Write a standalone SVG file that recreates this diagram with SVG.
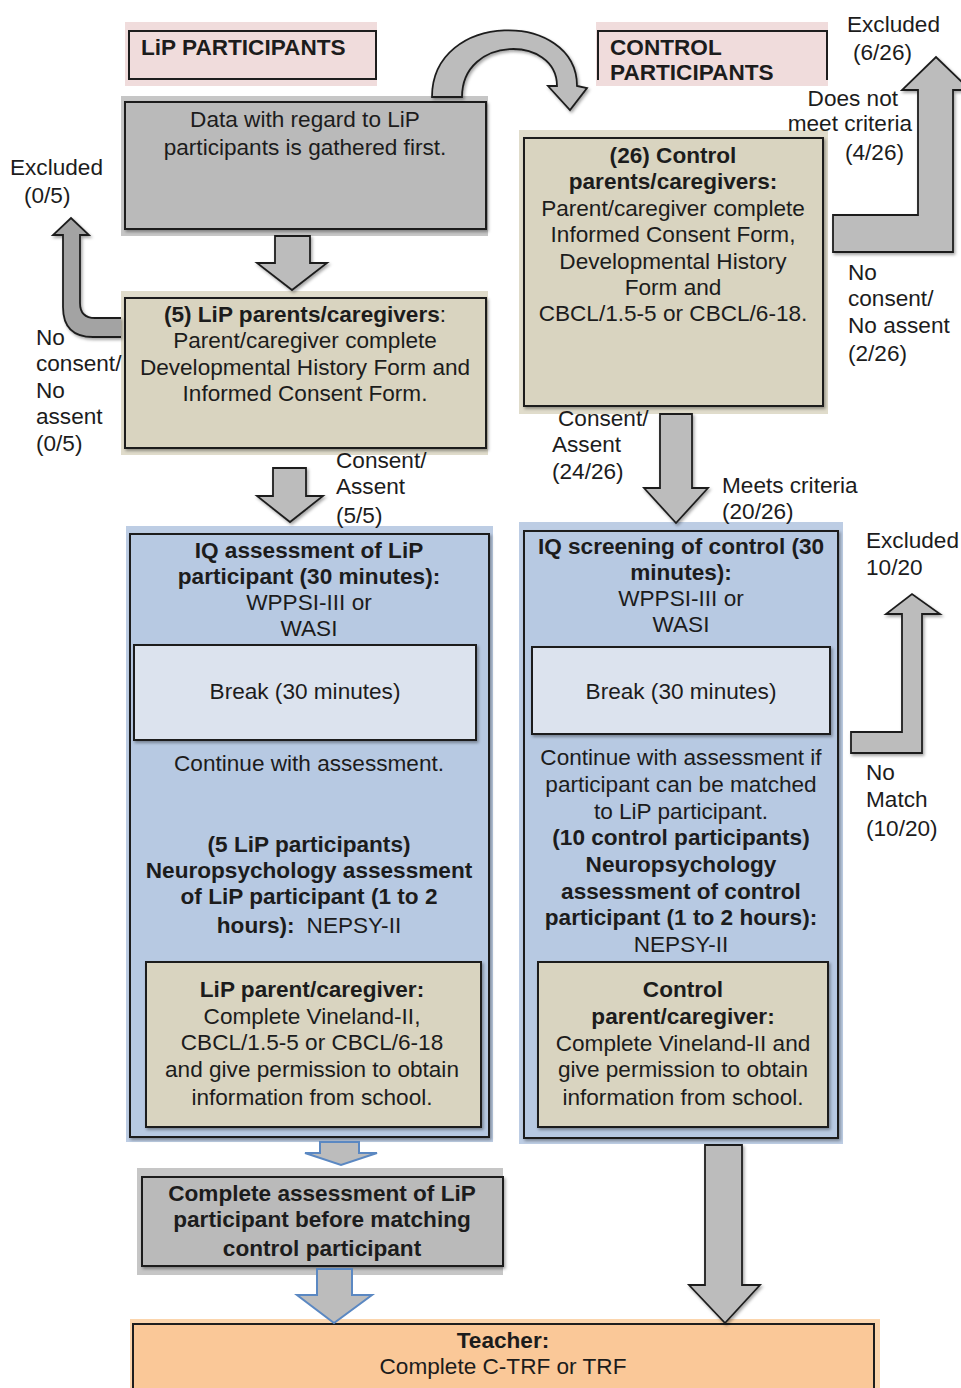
<svg xmlns="http://www.w3.org/2000/svg" width="961" height="1388" viewBox="0 0 961 1388">
<defs>
<filter id="sh" x="-10%" y="-10%" width="130%" height="130%">
<feDropShadow dx="1.5" dy="2" stdDeviation="1.5" flood-color="#000" flood-opacity="0.35"/>
</filter>
<style>
text{font-family:"Liberation Sans",Arial,sans-serif;font-size:22.6px;fill:#1c1c1c}
.b{font-weight:bold}
.c{text-anchor:middle}
.frame{stroke:#1e1e1e;stroke-width:2}
.pink{fill:#f0dcdc}
.gout{fill:#c6c6c6}
.gin{fill:#bababa}
.bout{fill:#e0dccb}
.bin{fill:#d9d4c0}
.lout{fill:#bdcde4}
.lin{fill:#b7c9e2}
.brk{fill:#dce3ee}
.arr{fill:#bcbcbc;stroke:#1e1e1e;stroke-width:1.8;stroke-linejoin:miter}
.arrd{fill:#a3a3a3;stroke:#1e1e1e;stroke-width:1.8}
.arrb{fill:#bcbcbc;stroke:#5b88c2;stroke-width:2}
</style>
</defs>

<g id="lip-header">
<rect x="125" y="22" width="252" height="64" class="pink"/>
<rect x="129" y="31" width="247" height="48" fill="none" class="frame"/>
<text x="141" y="55" class="b">LiP PARTICIPANTS</text>
</g>

<g id="control-header">
<rect x="596" y="22" width="232" height="64" class="pink"/>
<path d="M598,80 V31 H827 V80" fill="none" class="frame"/>
<text x="610" y="55" class="b">CONTROL</text>
<text x="610" y="80" class="b">PARTICIPANTS</text>
</g>

<g id="data-box">
<rect x="121" y="96" width="367" height="140" class="gout"/>
<rect x="125" y="102" width="361" height="127" class="gin frame" filter="url(#sh)"/>
<text x="305" y="127" class="c">Data with regard to LiP</text>
<text x="305" y="155" class="c">participants is gathered first.</text>
</g>

<g id="lip-parents">
<rect x="121" y="291" width="367" height="164" class="bout"/>
<rect x="125" y="298" width="361" height="150" class="bin frame" filter="url(#sh)"/>
<text x="305" y="322" class="c"><tspan class="b">(5) LiP parents/caregivers</tspan>:</text>
<text x="305" y="348" class="c">Parent/caregiver complete</text>
<text x="305" y="375" class="c">Developmental History Form and</text>
<text x="305" y="401" class="c">Informed Consent Form.</text>
</g>

<g id="control-parents">
<rect x="519" y="130" width="309" height="284" class="bout"/>
<rect x="524" y="138" width="299" height="268" class="bin frame" filter="url(#sh)"/>
<text x="673" y="163" class="c b">(26) Control</text>
<text x="673" y="189" class="c b">parents/caregivers:</text>
<text x="673" y="216" class="c">Parent/caregiver complete</text>
<text x="673" y="242" class="c">Informed Consent Form,</text>
<text x="673" y="269" class="c">Developmental History</text>
<text x="673" y="295" class="c">Form and</text>
<text x="673" y="321" class="c">CBCL/1.5-5 or CBCL/6-18.</text>
</g>

<g id="lip-iq">
<rect x="126" y="526" width="367" height="616" class="lout"/>
<rect x="130" y="534" width="359" height="603" class="lin frame" filter="url(#sh)"/>
<text x="309" y="558" class="c b">IQ assessment of LiP</text>
<text x="309" y="584" class="c b">participant (30 minutes):</text>
<text x="309" y="610" class="c">WPPSI-III or</text>
<text x="309" y="636" class="c">WASI</text>
<rect x="134" y="645" width="342" height="95" class="brk frame" filter="url(#sh)"/>
<text x="305" y="699" class="c">Break (30 minutes)</text>
<text x="309" y="771" class="c">Continue with assessment.</text>
<text x="309" y="852" class="c b">(5 LiP participants)</text>
<text x="309" y="878" class="c b">Neuropsychology assessment</text>
<text x="309" y="904" class="c b">of LiP participant (1 to 2</text>
<text x="309" y="933" class="c"><tspan class="b">hours):</tspan><tspan dx="12">NEPSY-II</tspan></text>
<rect x="146" y="962" width="335" height="165" class="bin frame" filter="url(#sh)"/>
<text x="312" y="997" class="c b">LiP parent/caregiver:</text>
<text x="312" y="1024" class="c">Complete Vineland-II,</text>
<text x="312" y="1050" class="c">CBCL/1.5-5 or CBCL/6-18</text>
<text x="312" y="1077" class="c">and give permission to obtain</text>
<text x="312" y="1105" class="c">information from school.</text>
</g>

<g id="control-iq">
<rect x="519" y="522" width="324" height="622" class="lout"/>
<rect x="524" y="531" width="314" height="607" class="lin frame" filter="url(#sh)"/>
<text x="681" y="554" class="c b">IQ screening of control (30</text>
<text x="681" y="580" class="c b">minutes):</text>
<text x="681" y="606" class="c">WPPSI-III or</text>
<text x="681" y="632" class="c">WASI</text>
<rect x="532" y="647" width="298" height="87" class="brk frame" filter="url(#sh)"/>
<text x="681" y="699" class="c">Break (30 minutes)</text>
<text x="681" y="765" class="c">Continue with assessment if</text>
<text x="681" y="792" class="c">participant can be matched</text>
<text x="681" y="819" class="c">to LiP participant.</text>
<text x="681" y="845" class="c b">(10 control participants)</text>
<text x="681" y="872" class="c b">Neuropsychology</text>
<text x="681" y="899" class="c b">assessment of control</text>
<text x="681" y="925" class="c b">participant (1 to 2 hours):</text>
<text x="681" y="952" class="c">NEPSY-II</text>
<rect x="538" y="962" width="290" height="165" class="bin frame" filter="url(#sh)"/>
<text x="683" y="997" class="c b">Control</text>
<text x="683" y="1024" class="c b">parent/caregiver:</text>
<text x="683" y="1051" class="c">Complete Vineland-II and</text>
<text x="683" y="1077" class="c">give permission to obtain</text>
<text x="683" y="1105" class="c">information from school.</text>
</g>

<g id="complete-box">
<rect x="137" y="1168" width="366" height="107" class="gout"/>
<rect x="142" y="1177" width="361" height="89" class="gin frame" filter="url(#sh)"/>
<text x="322" y="1201" class="c b">Complete assessment of LiP</text>
<text x="322" y="1227" class="c b">participant before matching</text>
<text x="322" y="1256" class="c b">control participant</text>
</g>

<g id="teacher-box">
<rect x="130" y="1319" width="750" height="69" fill="#fbd5ad"/>
<rect x="133" y="1324" width="741" height="70" fill="#fac898" class="frame"/>
<text x="503" y="1348" class="c b">Teacher:</text>
<text x="503" y="1374" class="c">Complete C-TRF or TRF</text>
</g>

<g id="connectors">
<path class="arr" filter="url(#sh)" d="M432,97 C432,10 577,10 577,86 L587,88 L570,110 L548,86 L557,86 C557,35 462,35 462,97 Z"/>
<path class="arr" filter="url(#sh)" d="M275,236 H310 V263 H327 L292,290 L257,263 H275 Z"/>
<path class="arrd" filter="url(#sh)" d="M121,318 L95,318 Q80,318 80,303 L80,235 L89,235 L71,218 L53,235 L63,235 L63,307 Q63,337 93,337 L121,337"/>
<path class="arr" filter="url(#sh)" d="M273,468 H306 V496 H323 L290,522 L257,496 H273 Z"/>
<path class="arr" filter="url(#sh)" d="M833,215 L918,215 L918,90 L902,90 L936,57 L970,90 L953,90 L953,252 L833,252 Z"/>
<path class="arr" filter="url(#sh)" d="M660,414 H692 V488 H708 L676,523 L644,488 H660 Z"/>
<path class="arr" filter="url(#sh)" d="M851,732 H902 V614 H886 L912,594 L940,614 H922 V753 H851 Z"/>
<path class="arrb" d="M320,1142 H359 V1153 H377 L341,1165 L305,1153 H320 Z"/>
<path class="arrb" d="M317,1269 H352 V1295 H372 L334,1323 L297,1295 H317 Z"/>
<path class="arr" filter="url(#sh)" d="M705,1145 H742 V1285 H760 L725,1323 L689,1285 H705 Z"/>
</g>

<g id="labels">
<text x="10" y="175">Excluded</text>
<text x="24" y="203">(0/5)</text>
<text x="36" y="345">No</text>
<text x="36" y="371">consent/</text>
<text x="36" y="398">No</text>
<text x="36" y="424">assent</text>
<text x="36" y="451">(0/5)</text>
<text x="336" y="468">Consent/</text>
<text x="336" y="494">Assent</text>
<text x="336" y="523">(5/5)</text>
<text x="847" y="32">Excluded</text>
<text x="853" y="60">(6/26)</text>
<text x="898" y="106" text-anchor="end">Does not</text>
<text x="912" y="131" text-anchor="end">meet criteria</text>
<text x="845" y="160">(4/26)</text>
<text x="848" y="280">No</text>
<text x="848" y="306">consent/</text>
<text x="848" y="333">No assent</text>
<text x="848" y="361">(2/26)</text>
<text x="558" y="426">Consent/</text>
<text x="552" y="452">Assent</text>
<text x="552" y="479">(24/26)</text>
<text x="722" y="493">Meets criteria</text>
<text x="722" y="519">(20/26)</text>
<text x="866" y="548">Excluded</text>
<text x="866" y="575">10/20</text>
<text x="866" y="780">No</text>
<text x="866" y="807">Match</text>
<text x="866" y="836">(10/20)</text>
</g>
</svg>
